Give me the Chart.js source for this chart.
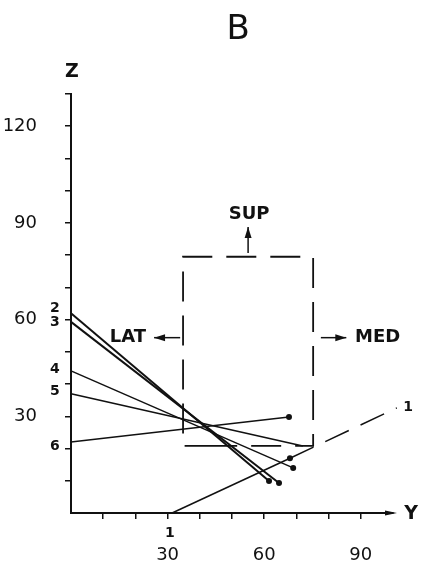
<!DOCTYPE html>
<html>
<head>
<meta charset="utf-8">
<script src="https://cdn.jsdelivr.net/npm/chart.js@4/dist/chart.umd.min.js"></script>
<style>
  html, body { margin: 0; padding: 0; background: #fff; }
  #wrap { width: 424px; height: 567px; }
</style>
</head>
<body>
<div id="wrap"><canvas id="grafico"></canvas></div>
<script>
const linea1 = [{x: 31.4, y: 0}, {x: 68, y: 17}];
const linea1Prolong = [{x: 68, y: 17}, {x: 101.2, y: 32.6}];
const linea2 = [{x: 0, y: 62}, {x: 61.5, y: 9.9}];
const linea3 = [{x: 0, y: 59.3}, {x: 64.6, y: 9.3}];
const linea4 = [{x: 0, y: 44.1}, {x: 69, y: 14}];
const linea5 = [{x: 0, y: 37}, {x: 72, y: 20.8}];
const linea6 = [{x: 0, y: 22}, {x: 67.7, y: 29.8}];
const caja = [{x: 44.6, y: 20.8}, {x: 34.8, y: 20.8}, {x: 34.8, y: 79.5}, {x: 75.2, y: 79.5}, {x: 75.2, y: 20.8}, {x: 44.6, y: 20.8}];
const ticksY = [30, 60, 90, 120];
const ticksX = [30, 60, 90];
const etiquetasLineas = [['2', 63.4], ['3', 59.3], ['4', 44.7], ['5', 37.6], ['6', 20.8]];

const negro = '#111';

function trazo(datos, ancho, conPunto) {
  return {
    data: datos,
    showLine: true,
    borderColor: negro,
    borderWidth: ancho,
    pointRadius: conPunto ? [0, 3] : 0,
    pointBackgroundColor: negro,
    pointBorderWidth: 0,
    clip: false
  };
}

function flecha(ctx, x1, y1, x2, y2) {
  const ang = Math.atan2(y2 - y1, x2 - x1);
  ctx.beginPath();
  ctx.moveTo(x1, y1);
  ctx.lineTo(x2, y2);
  ctx.stroke();
  ctx.beginPath();
  ctx.moveTo(x2, y2);
  ctx.lineTo(x2 - 11 * Math.cos(ang) + 3.5 * Math.sin(ang), y2 - 11 * Math.sin(ang) - 3.5 * Math.cos(ang));
  ctx.lineTo(x2 - 11 * Math.cos(ang) - 3.5 * Math.sin(ang), y2 - 11 * Math.sin(ang) + 3.5 * Math.cos(ang));
  ctx.closePath();
  ctx.fill();
}

const anotaciones = {
  id: 'anotaciones',
  afterDraw(chart) {
    const ctx = chart.ctx;
    const sx = chart.scales.x, sy = chart.scales.y;
    const px = v => sx.getPixelForValue(v);
    const py = v => sy.getPixelForValue(v);
    ctx.save();
    ctx.fillStyle = negro;
    ctx.strokeStyle = negro;
    ctx.lineWidth = 1.5;
    ctx.textAlign = 'center';
    ctx.textBaseline = 'middle';

    ctx.font = '34px "DejaVu Sans"';
    ctx.fillText('B', px(51.9), py(149.9));

    ctx.font = 'bold 19px "DejaVu Sans"';
    ctx.fillText('Z', px(0.3), py(136.8));
    ctx.fillText('Y', px(105.6), py(-0.3));

    ctx.font = 'bold 18px "DejaVu Sans"';
    ctx.fillText('SUP', px(55.3), py(92.8));
    ctx.fillText('LAT', px(17.7), py(54.4));
    ctx.fillText('MED', px(95.2), py(54.4));

    flecha(ctx, px(55), py(80.7), px(55), py(88.7));
    flecha(ctx, px(33.9), py(54.4), px(25.8), py(54.4));
    flecha(ctx, px(77.6), py(54.4), px(85.5), py(54.4));

    // punta del eje Y
    const xf = px(100), yf = py(0);
    ctx.beginPath();
    ctx.moveTo(xf + 4, yf);
    ctx.lineTo(xf - 8, yf - 2.5);
    ctx.lineTo(xf - 8, yf + 2.5);
    ctx.closePath();
    ctx.fill();

    ctx.font = 'bold 14px "DejaVu Sans"';
    etiquetasLineas.forEach(([t, z]) => ctx.fillText(t, px(-5), py(z)));
    ctx.fillText('1', px(30.7), py(-6.2));
    ctx.fillText('1', px(104.7), py(32.9));
    ctx.restore();
  }
};

const ctx = document.getElementById('grafico').getContext('2d');
const grafico = new Chart(ctx, {
  type: 'scatter',
  data: {
    datasets: [
      trazo(linea1, 1.5, true),
      Object.assign(trazo(linea1Prolong, 1.5, false), {borderDash: [26, 13]}),
      trazo(linea2, 2, true),
      trazo(linea3, 2, true),
      trazo(linea4, 1.5, true),
      Object.assign(trazo(linea5, 1.5, false), {pointRadius: 0}),
      trazo(linea6, 1.5, true),
      Object.assign(trazo(caja, 1.8, false), {borderDash: [30, 14]})
    ]
  },
  options: {
    responsive: true,
    maintainAspectRatio: false,
    animation: false,
    layout: { padding: { top: 94, right: 31, left: 0, bottom: 0 } },
    plugins: { legend: { display: false }, tooltip: { enabled: false } },
    scales: {
      x: {
        type: 'linear',
        min: 0, max: 100,
        afterFit: s => { s.height = 54; },
        border: { display: true, color: negro, width: 2 },
        grid: {
          drawOnChartArea: false, drawTicks: true, tickLength: 6, lineWidth: 1.5,
          color: c => (c.tick && c.tick.value > 0 && c.tick.value < 100) ? negro : 'rgba(0,0,0,0)'
        },
        ticks: {
          stepSize: 10, color: negro, padding: 26, maxRotation: 0, autoSkip: false,
          font: { family: 'DejaVu Sans', size: 18 },
          callback: v => ticksX.includes(v) ? String(v) : ''
        }
      },
      y: {
        type: 'linear',
        min: 0, max: 130,
        afterFit: s => { s.width = 71; },
        border: { display: true, color: negro, width: 2 },
        grid: {
          drawOnChartArea: false, drawTicks: true, tickLength: 6, lineWidth: 1.5,
          color: c => (c.tick && c.tick.value > 0) ? negro : 'rgba(0,0,0,0)'
        },
        ticks: {
          stepSize: 10, color: negro, padding: 28, autoSkip: false,
          font: { family: 'DejaVu Sans', size: 18 },
          callback: v => ticksY.includes(v) ? String(v) : ''
        }
      }
    }
  },
  plugins: [anotaciones]
});
</script>
</body>
</html>
